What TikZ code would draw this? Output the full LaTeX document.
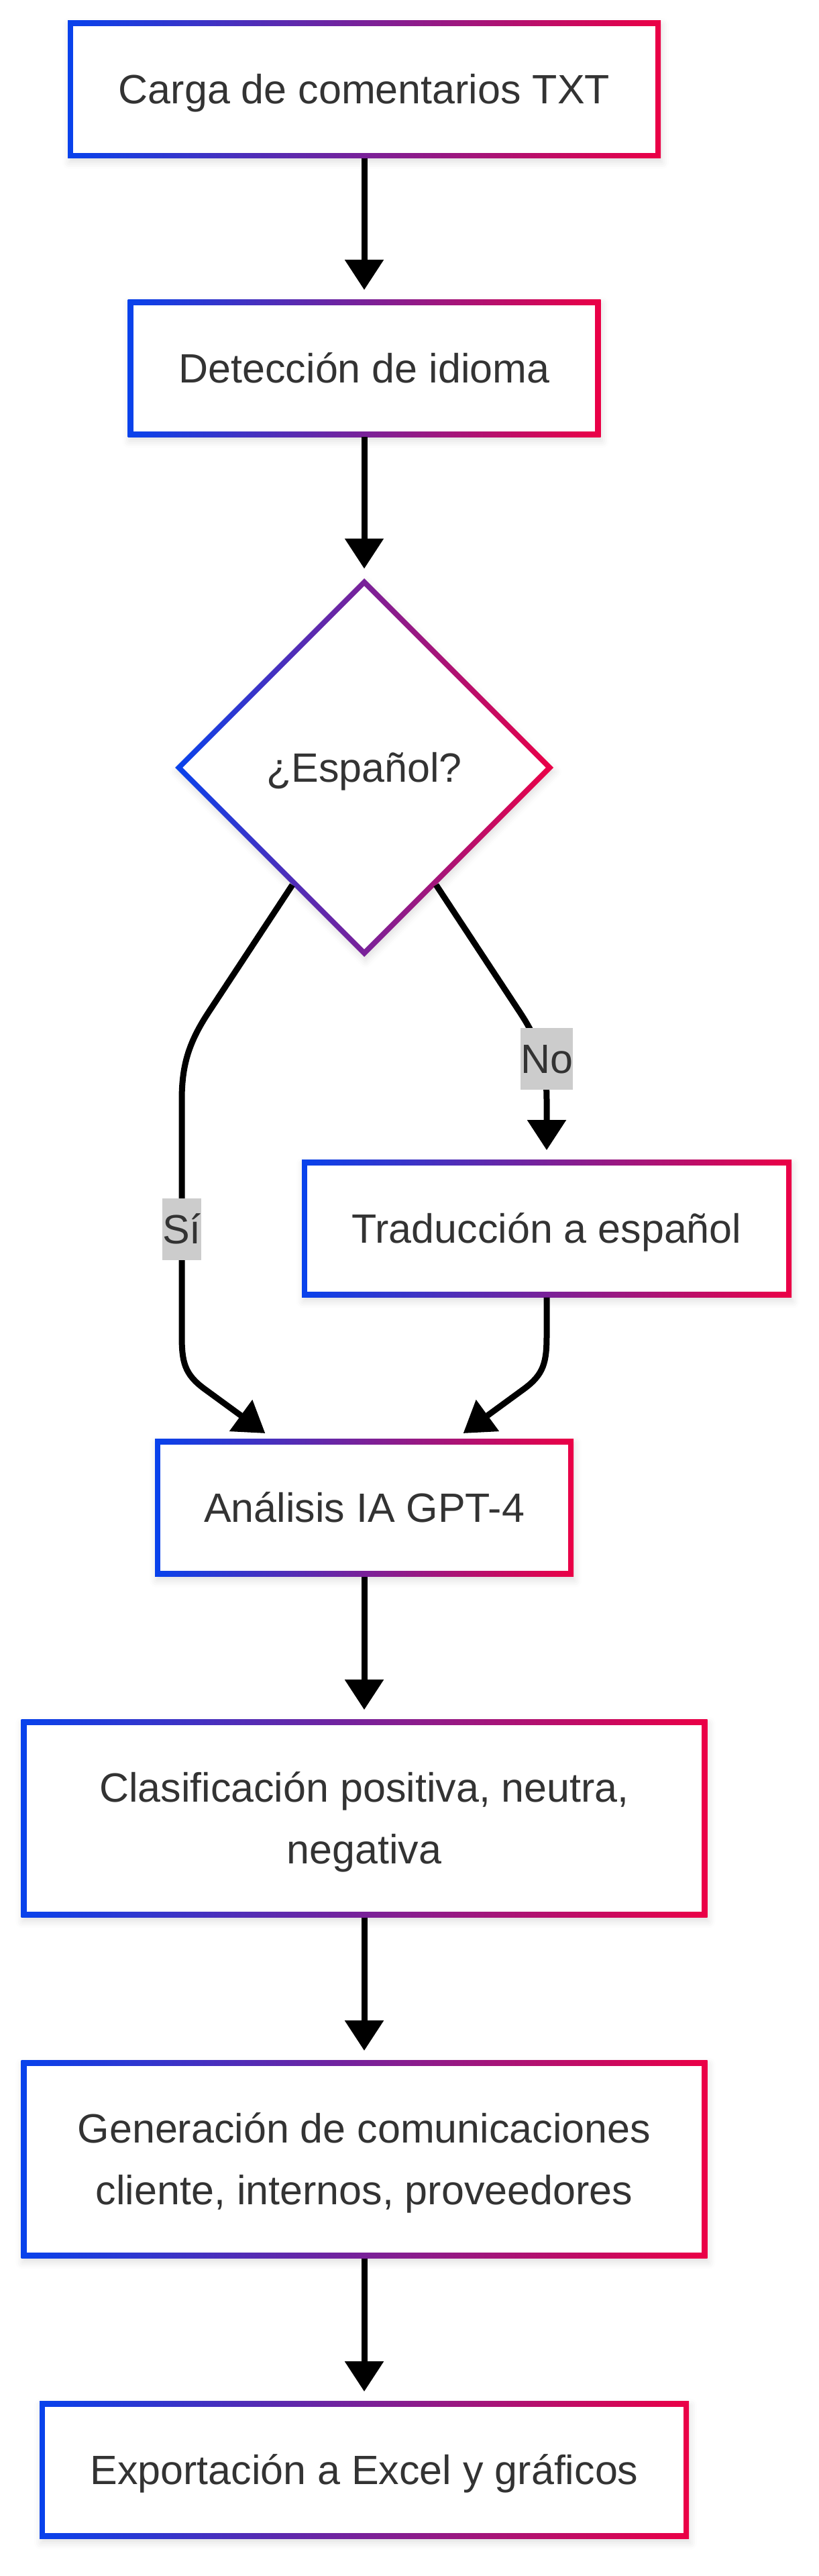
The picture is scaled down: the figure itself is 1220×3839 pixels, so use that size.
\documentclass[tikz,border=0pt]{standalone}
\usepackage{fontspec}
\setmainfont{Liberation Sans}
\usetikzlibrary{shapes.geometric, arrows.meta, calc, shadows.blur}
\definecolor{azul}{RGB}{8,66,236}
\definecolor{rojo}{RGB}{235,0,70}
\definecolor{gristexto}{HTML}{333333}
\definecolor{grisetiq}{HTML}{CCCCCC}
\begin{document}
\begin{tikzpicture}[x=0.25pt, y=-0.25pt, >={Triangle[length=11.25pt, width=14pt]},
	texto/.style={text=gristexto, font=\fontsize{15.25pt}{23pt}\selectfont, text height=13.8pt, text depth=3.23pt},
	sombra/.style={blur shadow={shadow xshift=0.5pt, shadow yshift=-1.5pt, shadow blur radius=2.5pt, shadow opacity=12}},
	caja/.style={texto, sombra, rectangle, outer sep=0pt, inner sep=0pt, align=center, minimum height=51.25pt,
		left color=azul, right color=rojo,
		path picture={\fill[white] ($(path picture bounding box.south west)+(2.1pt,2.1pt)$) rectangle ($(path picture bounding box.north east)-(2.1pt,2.1pt)$);}},
	doble/.style={minimum height=73.75pt, text height=36.8pt},
	decision/.style={texto, sombra, diamond, aspect=1, outer sep=0pt, inner sep=0pt, minimum width=141pt, minimum height=141pt,
		left color=azul, right color=rojo,
		path picture={\fill[white] ($(path picture bounding box.north)+(0pt,-2.83pt)$) -- ($(path picture bounding box.east)+(-2.83pt,0pt)$) -- ($(path picture bounding box.south)+(0pt,2.83pt)$) -- ($(path picture bounding box.west)+(2.83pt,0pt)$) -- cycle;}},
	etiq/.style={texto, fill=grisetiq, inner xsep=0pt, inner ysep=0pt, minimum height=23pt},
	flecha/.style={->, line width=2.25pt, shorten >=3.6pt}]
	\useasboundingbox (0,0) rectangle (1220,3839);
	\node[caja, minimum width=221pt] (carga) at (543,133.5) {Carga de comentarios TXT};
	\node[caja, minimum width=176.25pt] (deteccion) at (543,549) {Detección de idioma};
	\node[decision] (espanol) at (543,1144) {¿Español?};
	\node[caja, minimum width=182.5pt] (traduccion) at (815,1831) {Traducción a español};
	\node[caja, minimum width=156pt] (analisis) at (543,2247) {Análisis IA GPT-4};
	\node[caja, doble, minimum width=255.75pt] (clasif) at (543,2710) {Clasificación positiva, neutra,\\negativa};
	\node[caja, doble, minimum width=255.75pt] (generacion) at (543,3218) {Generación de comunicaciones\\cliente, internos, proveedores};
	\node[caja, minimum width=242pt] (exportacion) at (543,3681) {Exportación a Excel y gráficos};
	\draw[flecha] (carga) -- (deteccion);
	\draw[flecha] (deteccion) -- (espanol);
	\draw[flecha] ($(espanol.south)!0.38!(espanol.west)$) -- (310,1510) .. controls (280,1556) and (271,1590) .. (271,1640) -- (271,1990) .. controls (271,2030) and (275,2048) .. (305,2070) -- ($(analisis.north)+(-136,0)$);
	\draw[flecha] ($(espanol.south)!0.38!(espanol.east)$) -- (776,1510) .. controls (806,1556) and (815,1590) .. (815,1640) -- (traduccion);
	\draw[flecha] (traduccion) -- (815,1990) .. controls (815,2030) and (811,2048) .. (781,2070) -- ($(analisis.north)+(136,0)$);
	\draw[flecha] (analisis) -- (clasif);
	\draw[flecha] (clasif) -- (generacion);
	\draw[flecha] (generacion) -- (exportacion);
	\node[etiq] (si) at (271,1832) {Sí};
	\node[etiq] (no) at (815,1578) {No};
\end{tikzpicture}
\end{document}
